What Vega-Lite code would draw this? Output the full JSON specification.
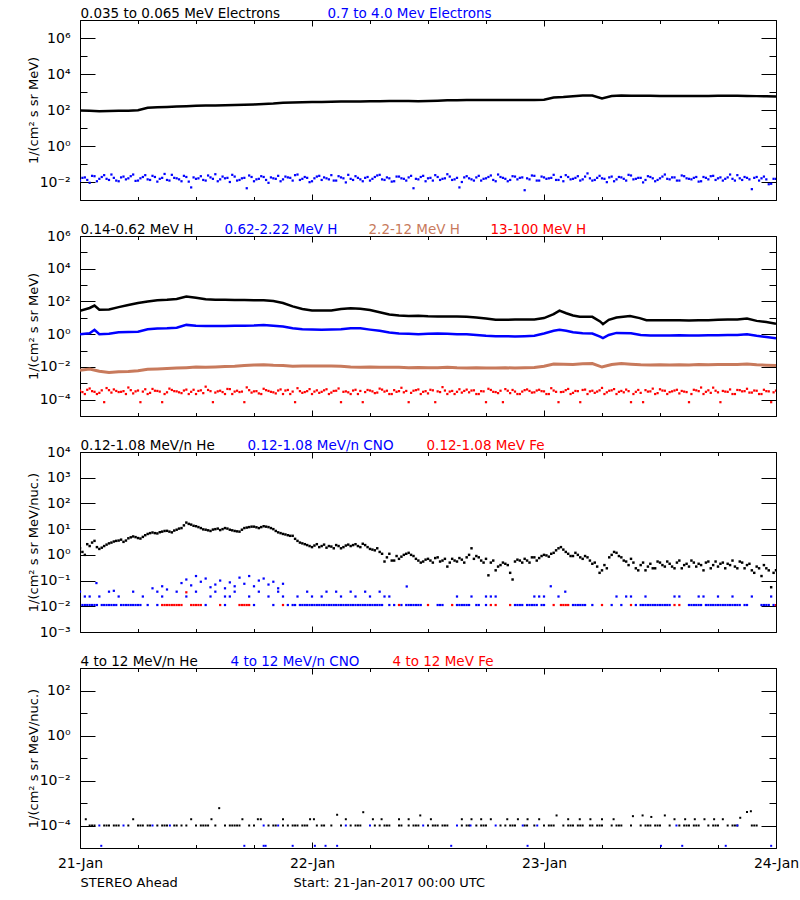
{
"$schema": "https://vega.github.io/schema/vega-lite/v6.json",
"background": "white",
"padding": {"left": 26, "top": 6, "right": 24, "bottom": 5},
"config": {
 "view": {"stroke": "black", "strokeWidth": 1},
 "font": "DejaVu Sans",
 "axis": {"domain": false, "grid": false, "tickColor": "black", "tickWidth": 1, "labelColor": "black", "labelFont": "DejaVu Sans", "labelFontSize": 14, "titleFont": "DejaVu Sans", "titleFontSize": 13, "titleFontWeight": "normal", "titleColor": "black", "labelOverlap": false, "labelFlush": false},
 "legend": {"orient": "none", "legendX": -13, "legendY": -13, "direction": "horizontal", "title": null, "symbolSize": 0, "symbolOpacity": 0, "symbolStrokeWidth": 0, "labelOffset": 0, "labelFontSize": 13.5, "labelFont": "DejaVu Sans", "padding": 0, "labelLimit": 400}
},
"datasets": {
 "e_lo": [{"h":0,"v":95},{"h":1,"v":90},{"h":2,"v":86},{"h":3,"v":88},{"h":4,"v":90},{"h":5,"v":92},{"h":6,"v":96},{"h":7,"v":134},{"h":8,"v":140},{"h":9,"v":148},{"h":10,"v":155},{"h":11,"v":162},{"h":12,"v":170},{"h":13,"v":176},{"h":14,"v":180},{"h":15,"v":185},{"h":16,"v":192},{"h":17,"v":198},{"h":18,"v":205},{"h":19,"v":215},{"h":20,"v":230},{"h":21,"v":255},{"h":22,"v":265},{"h":23,"v":270},{"h":24,"v":275},{"h":25,"v":282},{"h":26,"v":290},{"h":27,"v":292},{"h":28,"v":296},{"h":29,"v":300},{"h":30,"v":305},{"h":31,"v":308},{"h":32,"v":312},{"h":33,"v":316},{"h":34,"v":320},{"h":35,"v":305},{"h":36,"v":315},{"h":37,"v":330},{"h":38,"v":345},{"h":39,"v":350},{"h":40,"v":355},{"h":41,"v":355},{"h":42,"v":358},{"h":43,"v":360},{"h":44,"v":360},{"h":45,"v":362},{"h":46,"v":365},{"h":47,"v":365},{"h":48,"v":370},{"h":49,"v":500},{"h":50,"v":520},{"h":51,"v":580},{"h":52,"v":640},{"h":53,"v":630},{"h":54,"v":440},{"h":55,"v":600},{"h":56,"v":630},{"h":57,"v":620},{"h":58,"v":615},{"h":59,"v":610},{"h":60,"v":605},{"h":61,"v":600},{"h":62,"v":600},{"h":63,"v":598},{"h":64,"v":600},{"h":65,"v":605},{"h":66,"v":610},{"h":67,"v":615},{"h":68,"v":610},{"h":69,"v":600},{"h":70,"v":590},{"h":71,"v":580},{"h":72,"v":570}],
 "e_hi": [{"h":0,"v":0.012},{"h":0.5,"v":0.018},{"h":1,"v":0.009},{"h":1.5,"v":0.021},{"h":2,"v":0.015},{"h":2.5,"v":0.024},{"h":3,"v":0.013},{"h":3.5,"v":0.017},{"h":4,"v":0.011},{"h":4.5,"v":0.02},
 {"h":5,"v":0.016},{"h":5.5,"v":0.026},{"h":6,"v":0.012},{"h":6.5,"v":0.019},{"h":7,"v":0.014},{"h":7.5,"v":0.022},{"h":8,"v":0.0105},{"h":8.5,"v":0.017},{"h":9,"v":0.013},{"h":9.5,"v":0.025},
 {"h":10,"v":0.016},{"h":10.5,"v":0.011},{"h":11,"v":0.019},{"h":11.5,"v":0.005},{"h":12,"v":0.015},{"h":12.5,"v":0.021},{"h":13,"v":0.012},{"h":13.5,"v":0.018},{"h":14,"v":0.027},{"h":14.5,"v":0.014},
 {"h":15,"v":0.016},{"h":15.5,"v":0.01},{"h":16,"v":0.02},{"h":16.5,"v":0.013},{"h":17,"v":0.017},{"h":17.5,"v":0.023},{"h":18,"v":0.011},{"h":18.5,"v":0.015},{"h":19,"v":0.019},{"h":19.5,"v":0.009},
 {"h":20,"v":0.016},{"h":20.5,"v":0.022},{"h":21,"v":0.014},{"h":21.5,"v":0.018},{"h":22,"v":0.012},{"h":22.5,"v":0.026},{"h":23,"v":0.015},{"h":23.5,"v":0.017},{"h":24,"v":0.011},{"h":24.5,"v":0.02},
 {"h":25,"v":0.013},{"h":25.5,"v":0.016},{"h":26,"v":0.024},{"h":26.5,"v":0.012},{"h":27,"v":0.018},{"h":27.5,"v":0.0095},{"h":28,"v":0.015},{"h":28.5,"v":0.021},{"h":29,"v":0.014},{"h":29.5,"v":0.017},
 {"h":30,"v":0.012},{"h":30.5,"v":0.019},{"h":31,"v":0.025},{"h":31.5,"v":0.013},{"h":32,"v":0.016},{"h":32.5,"v":0.011},{"h":33,"v":0.02},{"h":33.5,"v":0.015},{"h":34,"v":0.018},{"h":34.5,"v":0.0045},
 {"h":35,"v":0.014},{"h":35.5,"v":0.022},{"h":36,"v":0.016},{"h":36.5,"v":0.012},{"h":37,"v":0.019},{"h":37.5,"v":0.015},{"h":38,"v":0.027},{"h":38.5,"v":0.013},{"h":39,"v":0.017},{"h":39.5,"v":0.01},
 {"h":40,"v":0.021},{"h":40.5,"v":0.014},{"h":41,"v":0.018},{"h":41.5,"v":0.012},{"h":42,"v":0.016},{"h":42.5,"v":0.023},{"h":43,"v":0.011},{"h":43.5,"v":0.019},{"h":44,"v":0.015},{"h":44.5,"v":0.013},
 {"h":45,"v":0.02},{"h":45.5,"v":0.017},{"h":46,"v":0.0035},{"h":46.5,"v":0.014},{"h":47,"v":0.022},{"h":47.5,"v":0.012},{"h":48,"v":0.018},{"h":48.5,"v":0.016},{"h":49,"v":0.025},{"h":49.5,"v":0.013},
 {"h":50,"v":0.011},{"h":50.5,"v":0.019},{"h":51,"v":0.015},{"h":51.5,"v":0.021},{"h":52,"v":0.014},{"h":52.5,"v":0.03},{"h":53,"v":0.012},{"h":53.5,"v":0.017},{"h":54,"v":0.016},{"h":54.5,"v":0.0098},
 {"h":55,"v":0.02},{"h":55.5,"v":0.014},{"h":56,"v":0.018},{"h":56.5,"v":0.012},{"h":57,"v":0.023},{"h":57.5,"v":0.015},{"h":58,"v":0.017},{"h":58.5,"v":0.013},{"h":59,"v":0.019},{"h":59.5,"v":0.011},
 {"h":60,"v":0.016},{"h":60.5,"v":0.026},{"h":61,"v":0.014},{"h":61.5,"v":0.018},{"h":62,"v":0.012},{"h":62.5,"v":0.021},{"h":63,"v":0.015},{"h":63.5,"v":0.017},{"h":64,"v":0.0105},{"h":64.5,"v":0.019},
 {"h":65,"v":0.014},{"h":65.5,"v":0.022},{"h":66,"v":0.016},{"h":66.5,"v":0.012},{"h":67,"v":0.018},{"h":67.5,"v":0.015},{"h":68,"v":0.024},{"h":68.5,"v":0.013},{"h":69,"v":0.017},{"h":69.5,"v":0.004},
 {"h":70,"v":0.019},{"h":70.5,"v":0.016},{"h":71,"v":0.014},{"h":71.5,"v":0.008},{"h":72,"v":0.015},
 {"h":0.25,"v":0.017},{"h":0.75,"v":0.013},{"h":1.25,"v":0.022},{"h":1.75,"v":0.011},{"h":2.25,"v":0.019},{"h":2.75,"v":0.015},{"h":3.25,"v":0.026},{"h":3.75,"v":0.012},{"h":4.25,"v":0.018},{"h":4.75,"v":0.014},
 {"h":5.25,"v":0.021},{"h":5.75,"v":0.0115},{"h":6.25,"v":0.016},{"h":6.75,"v":0.024},{"h":7.25,"v":0.013},{"h":7.75,"v":0.019},{"h":8.25,"v":0.015},{"h":8.75,"v":0.028},{"h":9.25,"v":0.012},{"h":9.75,"v":0.017},
 {"h":10.25,"v":0.014},{"h":10.75,"v":0.022},{"h":11.25,"v":0.0105},{"h":11.75,"v":0.018},{"h":12.25,"v":0.016},{"h":12.75,"v":0.013},{"h":13.25,"v":0.023},{"h":13.75,"v":0.015},{"h":14.25,"v":0.011},{"h":14.75,"v":0.02},
 {"h":15.25,"v":0.017},{"h":15.75,"v":0.025},{"h":16.25,"v":0.012},{"h":16.75,"v":0.016},{"h":17.25,"v":0.0045},{"h":17.75,"v":0.019},{"h":18.25,"v":0.014},{"h":18.75,"v":0.021},{"h":19.25,"v":0.013},{"h":19.75,"v":0.018},
 {"h":20.25,"v":0.015},{"h":20.75,"v":0.011},{"h":21.25,"v":0.02},{"h":21.75,"v":0.017},{"h":22.25,"v":0.024},{"h":22.75,"v":0.013},{"h":23.25,"v":0.019},{"h":23.75,"v":0.0098},{"h":24.25,"v":0.016},{"h":24.75,"v":0.022},
 {"h":25.25,"v":0.018},{"h":25.75,"v":0.014},{"h":26.25,"v":0.012},{"h":26.75,"v":0.021},{"h":27.25,"v":0.016},{"h":27.75,"v":0.025},{"h":28.25,"v":0.013},{"h":28.75,"v":0.017},{"h":29.25,"v":0.011},{"h":29.75,"v":0.019},
 {"h":30.25,"v":0.015},{"h":30.75,"v":0.023},{"h":31.25,"v":0.014},{"h":31.75,"v":0.018},{"h":32.25,"v":0.0105},{"h":32.75,"v":0.02},{"h":33.25,"v":0.016},{"h":33.75,"v":0.012},{"h":34.25,"v":0.022},{"h":34.75,"v":0.015},
 {"h":35.25,"v":0.019},{"h":35.75,"v":0.011},{"h":36.25,"v":0.017},{"h":36.75,"v":0.024},{"h":37.25,"v":0.013},{"h":37.75,"v":0.016},{"h":38.25,"v":0.02},{"h":38.75,"v":0.014},{"h":39.25,"v":0.005},{"h":39.75,"v":0.018},
 {"h":40.25,"v":0.016},{"h":40.75,"v":0.012},{"h":41.25,"v":0.022},{"h":41.75,"v":0.015},{"h":42.25,"v":0.019},{"h":42.75,"v":0.013},{"h":43.25,"v":0.026},{"h":43.75,"v":0.017},{"h":44.25,"v":0.011},{"h":44.75,"v":0.021},
 {"h":45.25,"v":0.014},{"h":45.75,"v":0.018},{"h":46.25,"v":0.016},{"h":46.75,"v":0.023},{"h":47.25,"v":0.012},{"h":47.75,"v":0.02},{"h":48.25,"v":0.015},{"h":48.75,"v":0.017},{"h":49.25,"v":0.013},{"h":49.75,"v":0.019},
 {"h":50.25,"v":0.024},{"h":50.75,"v":0.014},{"h":51.25,"v":0.017},{"h":51.75,"v":0.012},{"h":52.25,"v":0.02},{"h":52.75,"v":0.016},{"h":53.25,"v":0.013},{"h":53.75,"v":0.022},{"h":54.25,"v":0.015},{"h":54.75,"v":0.018},
 {"h":55.25,"v":0.011},{"h":55.75,"v":0.019},{"h":56.25,"v":0.015},{"h":56.75,"v":0.025},{"h":57.25,"v":0.014},{"h":57.75,"v":0.017},{"h":58.25,"v":0.0095},{"h":58.75,"v":0.021},{"h":59.25,"v":0.016},{"h":59.75,"v":0.013},
 {"h":60.25,"v":0.02},{"h":60.75,"v":0.015},{"h":61.25,"v":0.018},{"h":61.75,"v":0.012},{"h":62.25,"v":0.023},{"h":62.75,"v":0.016},{"h":63.25,"v":0.014},{"h":63.75,"v":0.019},{"h":64.25,"v":0.011},{"h":64.75,"v":0.017},
 {"h":65.25,"v":0.021},{"h":65.75,"v":0.013},{"h":66.25,"v":0.018},{"h":66.75,"v":0.015},{"h":67.25,"v":0.026},{"h":67.75,"v":0.012},{"h":68.25,"v":0.016},{"h":68.75,"v":0.019},{"h":69.25,"v":0.014},{"h":69.75,"v":0.017},
 {"h":70.25,"v":0.012},{"h":70.75,"v":0.02},{"h":71.25,"v":0.0075},{"h":71.75,"v":0.015}],
 "h1": [{"h":0,"v":27},{"h":1,"v":40},{"h":1.5,"v":56},{"h":2,"v":31},{"h":3,"v":32},{"h":4,"v":45},{"h":5,"v":60},{"h":6,"v":80},{"h":7,"v":100},{"h":8,"v":120},{"h":9,"v":125},{"h":10,"v":140},{"h":11,"v":200},{"h":12,"v":170},{"h":13,"v":135},{"h":14,"v":125},{"h":15,"v":125},{"h":16,"v":122},{"h":17,"v":122},{"h":18,"v":120},{"h":19,"v":118},{"h":20,"v":105},{"h":21,"v":80},{"h":22,"v":50},{"h":23,"v":35},{"h":24,"v":28},{"h":25,"v":28},{"h":26,"v":28},{"h":27,"v":35},{"h":28,"v":38},{"h":29,"v":36},{"h":30,"v":30},{"h":31,"v":22},{"h":32,"v":16},{"h":33,"v":13.8},{"h":34,"v":13},{"h":35,"v":13.5},{"h":36,"v":12.5},{"h":37,"v":12},{"h":38,"v":12},{"h":39,"v":12},{"h":40,"v":11.5},{"h":41,"v":10.5},{"h":42,"v":9},{"h":43,"v":7.5},{"h":44,"v":7.5},{"h":45,"v":7.8},{"h":46,"v":8},{"h":47,"v":8},{"h":48,"v":9.6},{"h":49,"v":16.7},{"h":49.6,"v":27.6},{"h":50.3,"v":19},{"h":51,"v":14},{"h":51.7,"v":11.5},{"h":53,"v":11.5},{"h":53.8,"v":6},{"h":54.1,"v":4.1},{"h":54.7,"v":7.5},{"h":55.5,"v":10.5},{"h":56.9,"v":13},{"h":57.9,"v":9.6},{"h":58.6,"v":7.2},{"h":60,"v":7},{"h":61,"v":7},{"h":62,"v":7},{"h":63,"v":6.8},{"h":64,"v":7},{"h":65,"v":7.2},{"h":66,"v":7.5},{"h":67,"v":8},{"h":68,"v":8},{"h":69,"v":9},{"h":70,"v":6.5},{"h":71,"v":5.5},{"h":72,"v":4.3}],
 "h2": [{"h":0,"v":1.0},{"h":1,"v":1.15},{"h":1.5,"v":1.85},{"h":2,"v":1.0},{"h":3,"v":1.05},{"h":4,"v":1.3},{"h":5,"v":1.35},{"h":6,"v":1.4},{"h":7,"v":2.0},{"h":8,"v":2.2},{"h":9,"v":2.3},{"h":10,"v":2.5},{"h":11,"v":3.7},{"h":12,"v":3.3},{"h":13,"v":3.2},{"h":14,"v":3.2},{"h":15,"v":3.2},{"h":16,"v":3.3},{"h":17,"v":3.3},{"h":18,"v":3.4},{"h":19,"v":3.7},{"h":20,"v":3.3},{"h":21,"v":2.9},{"h":22,"v":2.3},{"h":23,"v":2.0},{"h":24,"v":1.9},{"h":25,"v":1.85},{"h":26,"v":1.9},{"h":27,"v":2.0},{"h":28,"v":2.3},{"h":29,"v":2.3},{"h":30,"v":1.9},{"h":31,"v":1.6},{"h":32,"v":1.25},{"h":33,"v":1.1},{"h":34,"v":1.05},{"h":35,"v":1.0},{"h":36,"v":1.05},{"h":37,"v":1.1},{"h":38,"v":1.05},{"h":39,"v":1.0},{"h":40,"v":1.0},{"h":41,"v":0.9},{"h":42,"v":0.8},{"h":43,"v":0.75},{"h":44,"v":0.75},{"h":45,"v":0.72},{"h":46,"v":0.75},{"h":47,"v":0.8},{"h":48,"v":1.1},{"h":49,"v":1.6},{"h":49.6,"v":1.85},{"h":50.3,"v":1.6},{"h":51,"v":1.3},{"h":52,"v":1.15},{"h":53,"v":1.1},{"h":53.8,"v":0.7},{"h":54.1,"v":0.57},{"h":54.7,"v":0.9},{"h":55.5,"v":1.2},{"h":57,"v":1.15},{"h":58,"v":0.9},{"h":59,"v":0.83},{"h":60,"v":0.83},{"h":61,"v":0.83},{"h":62,"v":0.85},{"h":63,"v":0.83},{"h":64,"v":0.82},{"h":65,"v":0.85},{"h":66,"v":0.85},{"h":67,"v":0.88},{"h":68,"v":0.9},{"h":69,"v":1.0},{"h":70,"v":0.8},{"h":71,"v":0.68},{"h":72,"v":0.57}],
 "h3": [{"h":0,"v":0.0062},{"h":1,"v":0.0075},{"h":2,"v":0.0055},{"h":3,"v":0.0046},{"h":4,"v":0.005},{"h":5,"v":0.0052},{"h":6,"v":0.0058},{"h":7,"v":0.0072},{"h":8,"v":0.0075},{"h":9,"v":0.008},{"h":10,"v":0.0085},{"h":11,"v":0.009},{"h":12,"v":0.0098},{"h":13,"v":0.0095},{"h":14,"v":0.01},{"h":15,"v":0.0105},{"h":16,"v":0.011},{"h":17,"v":0.012},{"h":18,"v":0.013},{"h":19,"v":0.0135},{"h":20,"v":0.0125},{"h":21,"v":0.012},{"h":22,"v":0.011},{"h":23,"v":0.0112},{"h":24,"v":0.0115},{"h":25,"v":0.0112},{"h":26,"v":0.0115},{"h":27,"v":0.011},{"h":28,"v":0.01},{"h":29,"v":0.0095},{"h":30,"v":0.0098},{"h":31,"v":0.0095},{"h":32,"v":0.0096},{"h":33,"v":0.0095},{"h":34,"v":0.009},{"h":35,"v":0.0092},{"h":36,"v":0.0088},{"h":37,"v":0.009},{"h":38,"v":0.0095},{"h":39,"v":0.0088},{"h":40,"v":0.0086},{"h":41,"v":0.0088},{"h":42,"v":0.0085},{"h":43,"v":0.0087},{"h":44,"v":0.0088},{"h":45,"v":0.0086},{"h":46,"v":0.009},{"h":47,"v":0.0092},{"h":48,"v":0.011},{"h":49,"v":0.0148},{"h":50,"v":0.0145},{"h":51,"v":0.014},{"h":52,"v":0.0155},{"h":53,"v":0.016},{"h":54,"v":0.0098},{"h":55,"v":0.014},{"h":56,"v":0.016},{"h":57,"v":0.0145},{"h":58,"v":0.0135},{"h":59,"v":0.013},{"h":60,"v":0.0135},{"h":61,"v":0.013},{"h":62,"v":0.0135},{"h":63,"v":0.0132},{"h":64,"v":0.0138},{"h":65,"v":0.0135},{"h":66,"v":0.014},{"h":67,"v":0.0138},{"h":68,"v":0.0142},{"h":69,"v":0.015},{"h":70,"v":0.0135},{"h":71,"v":0.0128},{"h":72,"v":0.012}],
 "h4": [{"h":0,"v":0.00035},{"h":0.5,"v":0.00022},{"h":1,"v":0.00048},{"h":1.5,"v":0.0003},{"h":2,"v":0.00026},{"h":2.5,"v":0.00007},{"h":3,"v":0.00038},{"h":3.5,"v":0.00042},{"h":4,"v":0.00029},{"h":4.5,"v":0.00033},
 {"h":5,"v":0.00055},{"h":5.5,"v":0.00024},{"h":6,"v":0.00036},{"h":6.5,"v":0.00031},{"h":7,"v":0.00022},{"h":7.5,"v":0.00045},{"h":8,"v":0.00034},{"h":8.5,"v":0.00007},{"h":9,"v":0.00028},{"h":9.5,"v":0.00039},
 {"h":10,"v":0.00032},{"h":10.5,"v":0.00025},{"h":11,"v":0.00041},{"h":11.5,"v":0.0003},{"h":12,"v":0.00022},{"h":12.5,"v":0.00037},{"h":13,"v":0.00062},{"h":13.5,"v":0.00033},{"h":14,"v":0.00027},{"h":14.5,"v":0.00035},
 {"h":15,"v":0.00022},{"h":15.5,"v":0.00044},{"h":16,"v":0.00031},{"h":16.5,"v":0.00029},{"h":17,"v":0.00007},{"h":17.5,"v":0.00038},{"h":18,"v":0.00032},{"h":18.5,"v":0.00024},{"h":19,"v":0.00046},{"h":19.5,"v":0.00034},
 {"h":20,"v":0.00028},{"h":20.5,"v":0.00036},{"h":21,"v":0.00022},{"h":21.5,"v":0.00039},{"h":22,"v":0.00031},{"h":22.5,"v":0.0005},{"h":23,"v":0.00026},{"h":23.5,"v":0.00033},{"h":24,"v":0.00022},{"h":24.5,"v":0.00037},
 {"h":25,"v":0.0003},{"h":25.5,"v":0.00043},{"h":26,"v":0.00027},{"h":26.5,"v":0.00035},{"h":27,"v":0.00007},{"h":27.5,"v":0.00032},{"h":28,"v":0.00022},{"h":28.5,"v":0.0004},{"h":29,"v":0.00034},{"h":29.5,"v":0.00029},
 {"h":30,"v":0.00036},{"h":30.5,"v":0.00025},{"h":31,"v":0.00047},{"h":31.5,"v":0.00031},{"h":32,"v":0.00022},{"h":32.5,"v":0.00038},{"h":33,"v":0.00033},{"h":33.5,"v":0.00028},{"h":34,"v":0.00007},{"h":34.5,"v":0.00035},
 {"h":35,"v":0.00042},{"h":35.5,"v":0.0003},{"h":36,"v":0.00024},{"h":36.5,"v":0.00037},{"h":37,"v":0.00032},{"h":37.5,"v":0.00058},{"h":38,"v":0.00022},{"h":38.5,"v":0.00034},{"h":39,"v":0.0003},{"h":39.5,"v":0.00027},
 {"h":40,"v":0.00041},{"h":40.5,"v":0.00036},{"h":41,"v":0.00022},{"h":41.5,"v":0.00033},{"h":42,"v":0.00007},{"h":42.5,"v":0.00039},{"h":43,"v":0.00029},{"h":43.5,"v":0.00035},{"h":44,"v":0.00044},{"h":44.5,"v":0.00025},
 {"h":45,"v":0.00031},{"h":45.5,"v":0.00022},{"h":46,"v":0.00038},{"h":46.5,"v":0.00034},{"h":47,"v":0.00028},{"h":47.5,"v":0.0004},{"h":48,"v":0.00032},{"h":48.5,"v":0.00022},{"h":49,"v":0.00036},{"h":49.5,"v":0.00007},
 {"h":50,"v":0.0003},{"h":50.5,"v":0.00045},{"h":51,"v":0.00026},{"h":51.5,"v":0.00033},{"h":52,"v":0.00039},{"h":52.5,"v":0.00022},{"h":53,"v":0.00035},{"h":53.5,"v":0.00031},{"h":54,"v":0.00052},{"h":54.5,"v":0.00028},
 {"h":55,"v":0.00037},{"h":55.5,"v":0.00022},{"h":56,"v":0.00034},{"h":56.5,"v":0.00041},{"h":57,"v":0.00007},{"h":57.5,"v":0.0003},{"h":58,"v":0.00026},{"h":58.5,"v":0.00038},{"h":59,"v":0.00032},{"h":59.5,"v":0.00022},
 {"h":60,"v":0.00043},{"h":60.5,"v":0.00035},{"h":61,"v":0.00029},{"h":61.5,"v":0.00036},{"h":62,"v":0.00024},{"h":62.5,"v":0.00031},{"h":63,"v":0.00007},{"h":63.5,"v":0.0004},{"h":64,"v":0.00033},{"h":64.5,"v":0.00022},
 {"h":65,"v":0.00037},{"h":65.5,"v":0.00054},{"h":66,"v":0.00028},{"h":66.5,"v":0.00034},{"h":67,"v":0.0003},{"h":67.5,"v":0.00022},{"h":68,"v":0.00039},{"h":68.5,"v":0.00032},{"h":69,"v":0.00046},{"h":69.5,"v":0.00027},
 {"h":70,"v":0.00035},{"h":70.5,"v":0.00022},{"h":71,"v":0.00033},{"h":71.5,"v":0.00007},{"h":72,"v":0.00036},
 {"h":0.25,"v":0.00029},{"h":0.75,"v":0.0004},{"h":1.25,"v":0.00033},{"h":1.75,"v":0.00022},{"h":2.25,"v":0.00037},{"h":2.75,"v":0.00051},{"h":3.25,"v":0.00027},{"h":3.75,"v":0.00034},{"h":4.25,"v":0.0003},{"h":4.75,"v":0.00022},
 {"h":5.25,"v":0.00038},{"h":5.75,"v":0.00032},{"h":6.25,"v":0.00007},{"h":6.75,"v":0.00043},{"h":7.25,"v":0.00026},{"h":7.75,"v":0.00035},{"h":8.25,"v":0.00031},{"h":8.75,"v":0.00022},{"h":9.25,"v":0.00047},{"h":9.75,"v":0.00033},
 {"h":10.25,"v":0.00028},{"h":10.75,"v":0.00036},{"h":11.25,"v":0.00022},{"h":11.75,"v":0.0004},{"h":12.25,"v":0.00034},{"h":12.75,"v":0.00025},{"h":13.25,"v":0.00039},{"h":13.75,"v":0.00007},{"h":14.25,"v":0.00032},{"h":14.75,"v":0.00029},
 {"h":15.25,"v":0.00045},{"h":15.75,"v":0.00022},{"h":16.25,"v":0.00035},{"h":16.75,"v":0.00031},{"h":17.25,"v":0.00056},{"h":17.75,"v":0.00027},{"h":18.25,"v":0.00033},{"h":18.75,"v":0.00022},{"h":19.25,"v":0.00038},{"h":19.75,"v":0.0003},
 {"h":20.25,"v":0.00024},{"h":20.75,"v":0.00042},{"h":21.25,"v":0.00036},{"h":21.75,"v":0.00022},{"h":22.25,"v":0.00007},{"h":22.75,"v":0.00033},{"h":23.25,"v":0.00029},{"h":23.75,"v":0.00044},{"h":24.25,"v":0.00031},{"h":24.75,"v":0.00026},
 {"h":25.25,"v":0.00037},{"h":25.75,"v":0.00022},{"h":26.25,"v":0.00034},{"h":26.75,"v":0.00048},{"h":27.25,"v":0.0003},{"h":27.75,"v":0.00028},{"h":28.25,"v":0.00036},{"h":28.75,"v":0.00022},{"h":29.25,"v":0.00007},{"h":29.75,"v":0.00039},
 {"h":30.25,"v":0.00032},{"h":30.75,"v":0.00027},{"h":31.25,"v":0.00041},{"h":31.75,"v":0.00035},{"h":32.25,"v":0.00022},{"h":32.75,"v":0.0003},{"h":33.25,"v":0.00053},{"h":33.75,"v":0.00034},{"h":34.25,"v":0.00026},{"h":34.75,"v":0.00038},
 {"h":35.25,"v":0.00022},{"h":35.75,"v":0.00033},{"h":36.25,"v":0.0004},{"h":36.75,"v":0.00007},{"h":37.25,"v":0.00029},{"h":37.75,"v":0.00036},{"h":38.25,"v":0.00031},{"h":38.75,"v":0.00022},{"h":39.25,"v":0.00043},{"h":39.75,"v":0.00034},
 {"h":40.25,"v":0.00028},{"h":40.75,"v":0.00037},{"h":41.25,"v":0.00022},{"h":41.75,"v":0.00032},{"h":42.25,"v":0.00046},{"h":42.75,"v":0.0003},{"h":43.25,"v":0.00025},{"h":43.75,"v":0.00007},{"h":44.25,"v":0.00035},{"h":44.75,"v":0.00039},
 {"h":45.25,"v":0.00022},{"h":45.75,"v":0.00031},{"h":46.25,"v":0.00042},{"h":46.75,"v":0.00027},{"h":47.25,"v":0.00036},{"h":47.75,"v":0.00033},{"h":48.25,"v":0.00022},{"h":48.75,"v":0.0005},{"h":49.25,"v":0.0003},{"h":49.75,"v":0.00029},
 {"h":50.25,"v":0.00038},{"h":50.75,"v":0.00022},{"h":51.25,"v":0.00034},{"h":51.75,"v":0.00007},{"h":52.25,"v":0.00041},{"h":52.75,"v":0.00032},{"h":53.25,"v":0.00026},{"h":53.75,"v":0.00037},{"h":54.25,"v":0.00022},{"h":54.75,"v":0.00035},
 {"h":55.25,"v":0.00044},{"h":55.75,"v":0.0003},{"h":56.25,"v":0.00028},{"h":56.75,"v":0.00033},{"h":57.25,"v":0.00022},{"h":57.75,"v":0.00039},{"h":58.25,"v":0.00007},{"h":58.75,"v":0.00031},{"h":59.25,"v":0.00047},{"h":59.75,"v":0.00025},
 {"h":60.25,"v":0.00036},{"h":60.75,"v":0.00022},{"h":61.25,"v":0.00032},{"h":61.75,"v":0.0004},{"h":62.25,"v":0.00034},{"h":62.75,"v":0.00029},{"h":63.25,"v":0.00022},{"h":63.75,"v":0.00037},{"h":64.25,"v":0.00055},{"h":64.75,"v":0.0003},
 {"h":65.25,"v":0.00026},{"h":65.75,"v":0.00035},{"h":66.25,"v":0.00007},{"h":66.75,"v":0.00031},{"h":67.25,"v":0.00042},{"h":67.75,"v":0.00022},{"h":68.25,"v":0.00038},{"h":68.75,"v":0.00033},{"h":69.25,"v":0.00027},{"h":69.75,"v":0.00036},
 {"h":70.25,"v":0.00022},{"h":70.75,"v":0.0004},{"h":71.25,"v":0.00032},{"h":71.75,"v":0.00028}],
 "he": [{"h":0,"v":1.8},{"h":0.5,"v":1.0},{"h":1,"v":2.2},{"h":1.5,"v":3.5},{"h":2,"v":1.7},{"h":2.5,"v":2.2},{"h":3,"v":2.8},{"h":3.5,"v":3.3},{"h":4,"v":3.6},{"h":4.5,"v":3.2},{"h":5,"v":4.4},{"h":5.5,"v":5.2},{"h":6,"v":4.5},{"h":6.5,"v":5.0},{"h":7,"v":6.5},{"h":7.5,"v":7.4},{"h":8,"v":6.8},{"h":8.5,"v":8.0},{"h":9,"v":8.6},{"h":9.5,"v":7.5},{"h":10,"v":9.5},{"h":10.5,"v":11},{"h":11,"v":18},{"h":11.5,"v":15},{"h":12,"v":13},{"h":12.5,"v":11},{"h":13,"v":9.5},{"h":13.5,"v":8.5},{"h":14,"v":10},{"h":14.5,"v":9.2},{"h":15,"v":11},{"h":15.5,"v":9.5},{"h":16,"v":8.5},{"h":16.5,"v":8},{"h":17,"v":11},{"h":17.5,"v":12},{"h":18,"v":12.5},{"h":18.5,"v":11},{"h":19,"v":13},{"h":19.5,"v":12},{"h":20,"v":10},{"h":20.5,"v":7.5},{"h":21,"v":6.5},{"h":21.5,"v":5.8},{"h":22,"v":5.5},{"h":22.5,"v":3.5},{"h":23,"v":2.8},{"h":23.5,"v":2.4},{"h":24,"v":2.0},{"h":24.5,"v":2.6},{"h":25,"v":2.2},{"h":25.5,"v":1.9},{"h":26,"v":2.1},{"h":26.5,"v":2.4},{"h":27,"v":1.8},{"h":27.5,"v":2.3},{"h":28,"v":2.2},{"h":28.5,"v":2.6},{"h":29,"v":2.0},{"h":29.5,"v":2.4},{"h":30,"v":1.7},{"h":30.5,"v":1.5},{"h":31,"v":1.3},{"h":31.5,"v":0.55},{"h":32,"v":1.1},{"h":32.5,"v":0.6},{"h":33,"v":0.7},{"h":33.5,"v":1.0},{"h":34,"v":1.2},{"h":34.5,"v":0.9},{"h":35,"v":0.6},{"h":35.5,"v":0.55},{"h":36,"v":0.7},{"h":36.5,"v":0.5},{"h":37,"v":0.8},{"h":37.5,"v":0.6},{"h":38,"v":0.35},{"h":38.5,"v":0.7},{"h":39,"v":0.55},{"h":39.5,"v":0.65},{"h":40,"v":0.8},{"h":40.5,"v":1.8},{"h":41,"v":0.9},{"h":41.5,"v":0.6},{"h":42,"v":0.7},{"h":42.5,"v":0.5},{"h":43,"v":0.25},{"h":43.5,"v":0.4},{"h":44,"v":0.45},{"h":44.5,"v":0.2},{"h":45,"v":0.55},{"h":45.5,"v":0.6},{"h":46,"v":0.7},{"h":46.5,"v":0.5},{"h":47,"v":0.8},{"h":47.5,"v":0.75},{"h":48,"v":1.0},{"h":48.5,"v":0.85},{"h":49,"v":1.2},{"h":49.5,"v":1.8},{"h":50,"v":1.6},{"h":50.5,"v":1.1},{"h":51,"v":0.9},{"h":51.5,"v":1.0},{"h":52,"v":0.7},{"h":52.5,"v":0.8},{"h":53,"v":0.45},{"h":53.5,"v":0.35},{"h":54,"v":0.25},{"h":54.5,"v":0.3},{"h":55,"v":1.0},{"h":55.5,"v":1.2},{"h":56,"v":0.8},{"h":56.5,"v":0.55},{"h":57,"v":0.7},{"h":57.5,"v":0.3},{"h":58,"v":0.4},{"h":58.5,"v":0.25},{"h":59,"v":0.45},{"h":59.5,"v":0.3},{"h":60,"v":0.5},{"h":60.5,"v":0.35},{"h":61,"v":0.45},{"h":61.5,"v":0.3},{"h":62,"v":0.6},{"h":62.5,"v":0.4},{"h":63,"v":0.35},{"h":63.5,"v":0.5},{"h":64,"v":0.45},{"h":64.5,"v":0.25},{"h":65,"v":0.55},{"h":65.5,"v":0.4},{"h":66,"v":0.35},{"h":66.5,"v":0.5},{"h":67,"v":0.45},{"h":67.5,"v":0.6},{"h":68,"v":0.3},{"h":68.5,"v":0.5},{"h":69,"v":0.4},{"h":69.5,"v":0.25},{"h":70,"v":0.35},{"h":70.5,"v":0.15},{"h":71,"v":0.3},{"h":71.5,"v":0.055},{"h":72,"v":0.25},
 {"h":0.25,"v":1.3},{"h":0.75,"v":2.6},{"h":1.25,"v":3.0},{"h":1.75,"v":2.0},{"h":2.25,"v":1.9},{"h":2.75,"v":2.5},{"h":3.25,"v":3.0},{"h":3.75,"v":3.5},{"h":4.25,"v":3.9},{"h":4.75,"v":3.6},
 {"h":5.25,"v":4.8},{"h":5.75,"v":4.9},{"h":6.25,"v":4.3},{"h":6.75,"v":5.8},{"h":7.25,"v":7.0},{"h":7.75,"v":7.0},{"h":8.25,"v":7.6},{"h":8.75,"v":8.5},{"h":9.25,"v":8.0},{"h":9.75,"v":8.8},
 {"h":10.25,"v":10.5},{"h":10.75,"v":14},{"h":11.25,"v":16},{"h":11.75,"v":13.5},{"h":12.25,"v":12},{"h":12.75,"v":9.8},{"h":13.25,"v":9},{"h":13.75,"v":9.6},{"h":14.25,"v":10.5},{"h":14.75,"v":10},
 {"h":15.25,"v":10.5},{"h":15.75,"v":9},{"h":16.25,"v":8.2},{"h":16.75,"v":9.5},{"h":17.25,"v":11.5},{"h":17.75,"v":12.5},{"h":18.25,"v":11.8},{"h":18.75,"v":12},{"h":19.25,"v":12.5},{"h":19.75,"v":11},
 {"h":20.25,"v":8.5},{"h":20.75,"v":7},{"h":21.25,"v":6.2},{"h":21.75,"v":5.5},{"h":22.25,"v":4.2},{"h":22.75,"v":3.0},{"h":23.25,"v":2.6},{"h":23.75,"v":2.2},{"h":24.25,"v":2.3},{"h":24.75,"v":2.0},
 {"h":25.25,"v":2.5},{"h":25.75,"v":2.2},{"h":26.25,"v":1.8},{"h":26.75,"v":2.2},{"h":27.25,"v":2.0},{"h":27.75,"v":2.5},{"h":28.25,"v":2.4},{"h":28.75,"v":2.2},{"h":29.25,"v":2.7},{"h":29.75,"v":2.0},
 {"h":30.25,"v":1.6},{"h":30.75,"v":1.8},{"h":31.25,"v":1.1},{"h":31.75,"v":0.8},{"h":32.25,"v":0.6},{"h":32.75,"v":0.9},{"h":33.25,"v":0.85},{"h":33.75,"v":1.1},{"h":34.25,"v":1.0},{"h":34.75,"v":0.7},
 {"h":35.25,"v":0.5},{"h":35.75,"v":0.65},{"h":36.25,"v":0.6},{"h":36.75,"v":0.75},{"h":37.25,"v":0.55},{"h":37.75,"v":0.7},{"h":38.25,"v":0.5},{"h":38.75,"v":0.6},{"h":39.25,"v":0.75},{"h":39.75,"v":0.5},
 {"h":40.25,"v":1.0},{"h":40.75,"v":0.7},{"h":41.25,"v":0.8},{"h":41.75,"v":0.5},{"h":42.25,"v":0.16},{"h":42.75,"v":0.6},{"h":43.25,"v":0.35},{"h":43.75,"v":0.5},{"h":44.25,"v":0.4},{"h":44.75,"v":0.11},
 {"h":45.25,"v":0.65},{"h":45.75,"v":0.5},{"h":46.25,"v":0.6},{"h":46.75,"v":0.8},{"h":47.25,"v":0.6},{"h":47.75,"v":0.9},{"h":48.25,"v":0.95},{"h":48.75,"v":1.1},{"h":49.25,"v":1.5},{"h":49.75,"v":2.0},
 {"h":50.25,"v":1.3},{"h":50.75,"v":0.9},{"h":51.25,"v":1.2},{"h":51.75,"v":0.8},{"h":52.25,"v":0.9},{"h":52.75,"v":0.6},{"h":53.25,"v":0.5},{"h":53.75,"v":0.2},{"h":54.25,"v":0.4},{"h":54.75,"v":0.8},
 {"h":55.25,"v":1.3},{"h":55.75,"v":0.9},{"h":56.25,"v":0.6},{"h":56.75,"v":0.4},{"h":57.25,"v":0.5},{"h":57.75,"v":0.25},{"h":58.25,"v":0.5},{"h":58.75,"v":0.35},{"h":59.25,"v":0.3},{"h":59.75,"v":0.55},
 {"h":60.25,"v":0.4},{"h":60.75,"v":0.55},{"h":61.25,"v":0.35},{"h":61.75,"v":0.5},{"h":62.25,"v":0.3},{"h":62.75,"v":0.45},{"h":63.25,"v":0.6},{"h":63.75,"v":0.35},{"h":64.25,"v":0.4},{"h":64.75,"v":0.5},
 {"h":65.25,"v":0.3},{"h":65.75,"v":0.55},{"h":66.25,"v":0.45},{"h":66.75,"v":0.3},{"h":67.25,"v":0.4},{"h":67.75,"v":0.35},{"h":68.25,"v":0.55},{"h":68.75,"v":0.3},{"h":69.25,"v":0.45},{"h":69.75,"v":0.2},
 {"h":70.25,"v":0.3},{"h":70.75,"v":0.4},{"h":71.25,"v":0.25},{"h":71.75,"v":0.2}],
 "cno": [{"h":0.5,"v":0.0112},{"h":1,"v":0.0112},{"h":1.5,"v":0.0112},{"h":2.5,"v":0.0112},{"h":3,"v":0.0112},{"h":3.5,"v":0.0112},{"h":4.5,"v":0.0112},{"h":5,"v":0.0112},{"h":5.5,"v":0.0112},{"h":6,"v":0.0112},{"h":7,"v":0.0112},{"h":8,"v":0.0112},{"h":13,"v":0.0112},{"h":15,"v":0.0112},{"h":18,"v":0.0112},{"h":20,"v":0.0112},{"h":21.5,"v":0.0112},{"h":22,"v":0.0112},{"h":23,"v":0.0112},{"h":23.5,"v":0.0112},{"h":24,"v":0.0112},{"h":24.5,"v":0.0112},{"h":25,"v":0.0112},{"h":25.5,"v":0.0112},{"h":26,"v":0.0112},{"h":26.5,"v":0.0112},{"h":27,"v":0.0112},{"h":27.5,"v":0.0112},{"h":28,"v":0.0112},{"h":28.5,"v":0.0112},{"h":29,"v":0.0112},{"h":29.5,"v":0.0112},{"h":30,"v":0.0112},{"h":30.5,"v":0.0112},{"h":31,"v":0.0112},{"h":32,"v":0.0112},{"h":32.5,"v":0.0112},{"h":34,"v":0.0112},{"h":34.5,"v":0.0112},{"h":35,"v":0.0112},{"h":37,"v":0.0112},{"h":37.5,"v":0.0112},{"h":39,"v":0.0112},{"h":39.5,"v":0.0112},{"h":40,"v":0.0112},{"h":41,"v":0.0112},{"h":42,"v":0.0112},{"h":45,"v":0.0112},{"h":45.5,"v":0.0112},{"h":46.5,"v":0.0112},{"h":47,"v":0.0112},{"h":48,"v":0.0112},{"h":51,"v":0.0112},{"h":51.5,"v":0.0112},{"h":52,"v":0.0112},{"h":53,"v":0.0112},{"h":55,"v":0.0112},{"h":56,"v":0.0112},{"h":57.5,"v":0.0112},{"h":58,"v":0.0112},{"h":58.5,"v":0.0112},{"h":59,"v":0.0112},{"h":59.5,"v":0.0112},{"h":60,"v":0.0112},{"h":60.5,"v":0.0112},{"h":61,"v":0.0112},{"h":63,"v":0.0112},{"h":63.5,"v":0.0112},{"h":64,"v":0.0112},{"h":65,"v":0.0112},{"h":65.5,"v":0.0112},{"h":66,"v":0.0112},{"h":66.5,"v":0.0112},{"h":67,"v":0.0112},{"h":67.5,"v":0.0112},{"h":68,"v":0.0112},{"h":69,"v":0.0112},{"h":70.5,"v":0.0112},{"h":71,"v":0.0112},
 {"h":0.25,"v":0.0112},{"h":0.75,"v":0.0112},{"h":1.25,"v":0.0112},{"h":1.75,"v":0.0112},{"h":2.25,"v":0.0112},{"h":2.75,"v":0.0112},{"h":3.25,"v":0.0112},{"h":3.75,"v":0.0112},{"h":4.25,"v":0.0112},{"h":4.75,"v":0.0112},{"h":5.25,"v":0.0112},{"h":5.75,"v":0.0112},{"h":6.25,"v":0.0112},{"h":22.25,"v":0.0112},{"h":22.75,"v":0.0112},{"h":23.25,"v":0.0112},{"h":23.75,"v":0.0112},{"h":24.25,"v":0.0112},{"h":24.75,"v":0.0112},{"h":25.25,"v":0.0112},{"h":25.75,"v":0.0112},{"h":26.25,"v":0.0112},{"h":26.75,"v":0.0112},{"h":27.25,"v":0.0112},{"h":27.75,"v":0.0112},{"h":28.25,"v":0.0112},{"h":28.75,"v":0.0112},{"h":29.25,"v":0.0112},{"h":29.75,"v":0.0112},{"h":30.25,"v":0.0112},{"h":30.75,"v":0.0112},{"h":31.25,"v":0.0112},{"h":33.25,"v":0.0112},{"h":33.75,"v":0.0112},{"h":34.25,"v":0.0112},{"h":34.75,"v":0.0112},{"h":35.25,"v":0.0112},{"h":37.25,"v":0.0112},{"h":39.25,"v":0.0112},{"h":39.75,"v":0.0112},{"h":40.25,"v":0.0112},{"h":41.25,"v":0.0112},{"h":45.25,"v":0.0112},{"h":45.75,"v":0.0112},{"h":46.25,"v":0.0112},{"h":46.75,"v":0.0112},{"h":47.25,"v":0.0112},{"h":47.75,"v":0.0112},{"h":51.25,"v":0.0112},{"h":51.75,"v":0.0112},{"h":52.25,"v":0.0112},{"h":58.25,"v":0.0112},{"h":58.75,"v":0.0112},{"h":59.25,"v":0.0112},{"h":59.75,"v":0.0112},{"h":60.25,"v":0.0112},{"h":60.75,"v":0.0112},{"h":63.25,"v":0.0112},{"h":63.75,"v":0.0112},{"h":64.25,"v":0.0112},{"h":64.75,"v":0.0112},{"h":65.25,"v":0.0112},{"h":65.75,"v":0.0112},{"h":66.25,"v":0.0112},{"h":66.75,"v":0.0112},{"h":67.25,"v":0.0112},{"h":67.75,"v":0.0112},{"h":68.25,"v":0.0112},{"h":68.75,"v":0.0112},{"h":70.75,"v":0.0112},{"h":71.25,"v":0.0112},{"h":71.75,"v":0.0112},
 {"h":0.5,"v":0.024},{"h":1,"v":0.024},{"h":2,"v":0.024},{"h":4,"v":0.024},{"h":6.5,"v":0.024},{"h":8.5,"v":0.024},{"h":11,"v":0.024},{"h":13.5,"v":0.024},{"h":15,"v":0.024},{"h":15.5,"v":0.024},{"h":17.5,"v":0.024},{"h":19.5,"v":0.024},{"h":21,"v":0.024},{"h":22.5,"v":0.024},{"h":24,"v":0.024},{"h":25,"v":0.024},{"h":27,"v":0.024},{"h":28.5,"v":0.024},{"h":30,"v":0.024},{"h":31.5,"v":0.024},{"h":32,"v":0.024},{"h":39,"v":0.024},{"h":40.5,"v":0.024},{"h":42,"v":0.024},{"h":42.5,"v":0.024},{"h":43,"v":0.024},{"h":47,"v":0.024},{"h":47.5,"v":0.024},{"h":48,"v":0.024},{"h":49.5,"v":0.024},{"h":55.5,"v":0.024},{"h":56.5,"v":0.024},{"h":57,"v":0.024},{"h":58.5,"v":0.024},{"h":61.5,"v":0.024},{"h":62,"v":0.024},{"h":64,"v":0.024},{"h":64.5,"v":0.024},{"h":66,"v":0.024},{"h":67.5,"v":0.024},{"h":69.5,"v":0.024},{"h":71.5,"v":0.024},
 {"h":0,"v":0.037},{"h":3,"v":0.037},{"h":5.5,"v":0.037},{"h":8,"v":0.037},{"h":10,"v":0.037},{"h":12,"v":0.037},{"h":14,"v":0.037},{"h":16,"v":0.037},{"h":18.5,"v":0.037},{"h":20.5,"v":0.037},{"h":23.5,"v":0.037},{"h":25.5,"v":0.037},{"h":26.5,"v":0.037},{"h":28,"v":0.037},{"h":29.5,"v":0.037},{"h":31,"v":0.037},{"h":50.2,"v":0.037},
 {"h":1.7,"v":0.08},{"h":3.5,"v":0.04},{"h":7.5,"v":0.05},{"h":8.5,"v":0.06},{"h":9,"v":0.045},{"h":10.5,"v":0.08},{"h":11,"v":0.11},{"h":11.5,"v":0.065},{"h":12,"v":0.15},{"h":12.5,"v":0.09},{"h":13,"v":0.12},{"h":13.5,"v":0.055},{"h":14,"v":0.07},{"h":14.5,"v":0.1},{"h":15,"v":0.05},{"h":15.5,"v":0.085},{"h":16,"v":0.06},{"h":16.5,"v":0.13},{"h":17,"v":0.075},{"h":17.5,"v":0.15},{"h":18,"v":0.06},{"h":18.5,"v":0.1},{"h":19,"v":0.12},{"h":19.5,"v":0.07},{"h":20,"v":0.09},{"h":20.5,"v":0.05},{"h":21,"v":0.075},{"h":33.8,"v":0.059},{"h":48.7,"v":0.06}],
 "fe": [{"h":8.5,"v":0.0112},{"h":9,"v":0.0112},{"h":9.5,"v":0.0112},{"h":10,"v":0.0112},{"h":10.5,"v":0.0112},{"h":11.5,"v":0.0112},{"h":12,"v":0.0112},{"h":12.5,"v":0.0112},{"h":14.5,"v":0.0112},{"h":16.5,"v":0.0112},{"h":17,"v":0.0112},{"h":17.5,"v":0.0112},{"h":21,"v":0.0112},{"h":33,"v":0.0112},{"h":36,"v":0.0112},{"h":38.5,"v":0.0112},{"h":42.5,"v":0.0112},{"h":43,"v":0.0112},{"h":44.5,"v":0.0112},{"h":49,"v":0.0112},{"h":50,"v":0.0112},{"h":50.5,"v":0.0112},{"h":54,"v":0.0112},{"h":57,"v":0.0112},{"h":61.5,"v":0.0112},{"h":62,"v":0.0112},{"h":72,"v":0.0112},{"h":11,"v":0.035},
 {"h":8.75,"v":0.0112},{"h":9.25,"v":0.0112},{"h":9.75,"v":0.0112},{"h":10.25,"v":0.0112},{"h":11.75,"v":0.0112},{"h":12.25,"v":0.0112},{"h":16.75,"v":0.0112},{"h":17.25,"v":0.0112},{"h":49.75,"v":0.0112},{"h":50.25,"v":0.0112}],
 "he4": [{"h":1,"v":0.0001},{"h":1.5,"v":0.0001},{"h":2.5,"v":0.0001},{"h":3,"v":0.0001},{"h":3.5,"v":0.0001},{"h":4,"v":0.0001},{"h":5,"v":0.0001},{"h":6,"v":0.0001},{"h":6.5,"v":0.0001},{"h":7,"v":0.0001},{"h":8,"v":0.0001},{"h":8.5,"v":0.0001},{"h":9,"v":0.0001},{"h":10,"v":0.0001},{"h":10.5,"v":0.0001},{"h":11,"v":0.0001},{"h":12,"v":0.0001},{"h":12.5,"v":0.0001},{"h":13,"v":0.0001},{"h":14,"v":0.0001},{"h":15,"v":0.0001},{"h":15.5,"v":0.0001},{"h":16,"v":0.0001},{"h":16.5,"v":0.0001},{"h":17.5,"v":0.0001},{"h":18,"v":0.0001},{"h":19.5,"v":0.0001},{"h":20,"v":0.0001},{"h":21,"v":0.0001},{"h":21.5,"v":0.0001},{"h":22,"v":0.0001},{"h":22.5,"v":0.0001},{"h":23,"v":0.0001},{"h":23.5,"v":0.0001},{"h":24.5,"v":0.0001},{"h":25,"v":0.0001},{"h":26,"v":0.0001},{"h":27,"v":0.0001},{"h":28,"v":0.0001},{"h":28.5,"v":0.0001},{"h":29,"v":0.0001},{"h":30.5,"v":0.0001},{"h":31,"v":0.0001},{"h":31.5,"v":0.0001},{"h":32,"v":0.0001},{"h":33,"v":0.0001},{"h":34,"v":0.0001},{"h":34.5,"v":0.0001},{"h":35,"v":0.0001},{"h":36,"v":0.0001},{"h":36.5,"v":0.0001},{"h":37,"v":0.0001},{"h":37.5,"v":0.0001},{"h":38,"v":0.0001},{"h":39.5,"v":0.0001},{"h":40,"v":0.0001},{"h":41,"v":0.0001},{"h":41.5,"v":0.0001},{"h":42,"v":0.0001},{"h":43.5,"v":0.0001},{"h":44,"v":0.0001},{"h":44.5,"v":0.0001},{"h":45,"v":0.0001},{"h":46,"v":0.0001},{"h":47,"v":0.0001},{"h":48,"v":0.0001},{"h":48.5,"v":0.0001},{"h":49,"v":0.0001},{"h":50,"v":0.0001},{"h":50.5,"v":0.0001},{"h":51,"v":0.0001},{"h":51.5,"v":0.0001},{"h":52,"v":0.0001},{"h":53,"v":0.0001},{"h":53.5,"v":0.0001},{"h":54,"v":0.0001},{"h":55,"v":0.0001},{"h":55.5,"v":0.0001},{"h":56,"v":0.0001},{"h":57,"v":0.0001},{"h":58,"v":0.0001},{"h":58.5,"v":0.0001},{"h":59,"v":0.0001},{"h":59.5,"v":0.0001},{"h":60,"v":0.0001},{"h":61,"v":0.0001},{"h":62,"v":0.0001},{"h":62.5,"v":0.0001},{"h":63,"v":0.0001},{"h":63.5,"v":0.0001},{"h":64,"v":0.0001},{"h":65,"v":0.0001},{"h":65.5,"v":0.0001},{"h":66,"v":0.0001},{"h":67,"v":0.0001},{"h":67.5,"v":0.0001},{"h":68,"v":0.0001},{"h":69.5,"v":0.0001},{"h":70,"v":0.0001},
 {"h":1.25,"v":0.0001},{"h":2.75,"v":0.0001},{"h":3.75,"v":0.0001},{"h":6.25,"v":0.0001},{"h":7.25,"v":0.0001},{"h":8.75,"v":0.0001},{"h":9.75,"v":0.0001},{"h":12.75,"v":0.0001},{"h":13.25,"v":0.0001},{"h":15.75,"v":0.0001},{"h":16.25,"v":0.0001},{"h":20.25,"v":0.0001},{"h":22.25,"v":0.0001},{"h":23.25,"v":0.0001},{"h":25.25,"v":0.0001},{"h":28.75,"v":0.0001},{"h":31.75,"v":0.0001},{"h":33.25,"v":0.0001},{"h":34.75,"v":0.0001},{"h":36.75,"v":0.0001},{"h":37.75,"v":0.0001},{"h":40.25,"v":0.0001},{"h":41.75,"v":0.0001},{"h":44.75,"v":0.0001},{"h":46.25,"v":0.0001},{"h":48.75,"v":0.0001},{"h":50.75,"v":0.0001},{"h":51.75,"v":0.0001},{"h":52.75,"v":0.0001},{"h":53.75,"v":0.0001},{"h":55.75,"v":0.0001},{"h":58.75,"v":0.0001},{"h":59.75,"v":0.0001},{"h":62.75,"v":0.0001},{"h":63.75,"v":0.0001},{"h":65.75,"v":0.0001},{"h":67.75,"v":0.0001},{"h":69.75,"v":0.0001},
 {"h":0.6,"v":0.00019},{"h":5.5,"v":0.00019},{"h":11.5,"v":0.00019},{"h":13.6,"v":0.00019},{"h":14.4,"v":0.00059},{"h":16.8,"v":0.00019},{"h":18.4,"v":0.00019},{"h":18.7,"v":0.00019},{"h":21,"v":0.00019},{"h":23.8,"v":0.00019},{"h":24.2,"v":0.00019},{"h":26.6,"v":0.0003},{"h":27.5,"v":0.00019},{"h":29.3,"v":0.00039},{"h":30.3,"v":0.00019},{"h":31.2,"v":0.00019},{"h":33,"v":0.00019},{"h":34,"v":0.00019},{"h":35.2,"v":0.00028},{"h":36.3,"v":0.00019},{"h":39.5,"v":0.00019},{"h":40.5,"v":0.00019},{"h":41.5,"v":0.00019},{"h":42.5,"v":0.00019},{"h":44.2,"v":0.00019},{"h":45.3,"v":0.00019},{"h":46.3,"v":0.00019},{"h":47.5,"v":0.00019},{"h":49.3,"v":0.00028},{"h":50.5,"v":0.00019},{"h":51.7,"v":0.00019},{"h":52.8,"v":0.00019},{"h":54,"v":0.00019},{"h":55.2,"v":0.00019},{"h":57.2,"v":0.00026},{"h":58.2,"v":0.00028},{"h":59.1,"v":0.00024},{"h":60.5,"v":0.00028},{"h":61.5,"v":0.00019},{"h":62.6,"v":0.00019},{"h":63.6,"v":0.00019},{"h":64.6,"v":0.00019},{"h":65.6,"v":0.00019},{"h":66.5,"v":0.00019},{"h":68.3,"v":0.00022},{"h":69,"v":0.0004},{"h":69.4,"v":0.00043}],
 "cno4": [{"h":2,"v":0.0001},{"h":4.5,"v":0.0001},{"h":7.5,"v":0.0001},{"h":9.3,"v":0.0001},{"h":19,"v":0.0001},{"h":20.5,"v":0.0001},{"h":27.5,"v":0.0001},{"h":30,"v":0.0001},{"h":35.5,"v":0.0001},{"h":39,"v":0.0001},{"h":40.4,"v":0.0001},{"h":43,"v":0.0001},{"h":45.8,"v":0.0001},{"h":47.3,"v":0.0001},{"h":61.7,"v":0.0001},{"h":68,"v":0.0001},
 {"h":2.2,"v":0.0000125},{"h":17,"v":0.0000125},{"h":19,"v":0.0000125},{"h":19.2,"v":0.0000125},{"h":22,"v":0.0000125},{"h":24.3,"v":0.0000125},{"h":25.4,"v":0.0000125},{"h":26.6,"v":0.0000125},{"h":38.4,"v":0.0000125},{"h":46.3,"v":0.0000125},{"h":60.1,"v":0.0000125},{"h":62.3,"v":0.0000125},{"h":66.8,"v":0.0000125},{"h":71.5,"v":0.0000125}]
},
"bounds": "flush",
"spacing": 36,
"resolve": {"scale": {"x": "independent", "y": "independent", "color": "independent"}, "legend": {"color": "independent"}},
"vconcat": [
 {
  "width": 696, "height": 180,
  "resolve": {"axis": {"x": "independent", "y": "independent"}},
  "layer": [
   {"data": {"name": "e_lo"}, "mark": {"type": "line", "strokeWidth": 2.5, "clip": true},
    "encoding": {
     "x": {"field": "h", "type": "quantitative", "scale": {"domain": [0, 72], "nice": false, "zero": false},
       "axis": {"orient": "bottom", "values": [0,6,12,18,24,30,36,42,48,54,60,66,72], "labels": false, "title": null, "tickSize": {"condition": {"test": "datum.value % 24 == 0", "value": -6}, "value": -3.5}}},
     "y": {"field": "v", "type": "quantitative", "scale": {"type": "log", "domain": [0.001, 10000000], "nice": false},
       "axis": {"orient": "left", "values": [0.001,0.01,0.1,1,10,100,1000,10000,100000,1000000,10000000], "labelExpr": "['','10⁻²','','10⁰','','10²','','10⁴','','10⁶',''][round(log(datum.value)/LN10)+3]", "tickSize": {"condition": {"test": "round(log(datum.value)/LN10) % 2 == 0", "value": -15}, "value": -7}, "labelPadding": 25, "title": "1/(cm² s sr MeV)", "titleX": -47, "titleY": 90, "titleAngle": -90, "titleAlign": "center", "titleBaseline": "middle"}},
     "color": {"datum": "0.035 to 0.065 MeV Electrons", "scale": {"domain": ["0.035 to 0.065 MeV Electrons", "0.7 to 4.0 Mev Electrons"], "range": ["black", "#0000ff"]},
       "legend": {"columnPadding": 33, "encode": {"labels": {"update": {"fill": {"signal": "datum.value === '0.7 to 4.0 Mev Electrons' ? '#0000ff' : 'black'"}}}}}}
    }},
   {"data": {"name": "e_hi"}, "mark": {"type": "square", "size": 5, "opacity": 1, "clip": true},
    "encoding": {
     "x": {"field": "h", "type": "quantitative", "axis": {"orient": "top", "values": [0,6,12,18,24,30,36,42,48,54,60,66,72], "labels": false, "title": null, "tickSize": {"condition": {"test": "datum.value % 24 == 0", "value": -6}, "value": -3.5}}},
     "y": {"field": "v", "type": "quantitative", "axis": {"orient": "right", "values": [0.001,0.01,0.1,1,10,100,1000,10000,100000,1000000,10000000], "labels": false, "title": null, "tickSize": {"condition": {"test": "round(log(datum.value)/LN10) % 2 == 0", "value": -15}, "value": -7}}},
     "color": {"datum": "0.7 to 4.0 Mev Electrons"}
    }}
  ]
 },
 {
  "width": 696, "height": 180,
  "resolve": {"axis": {"x": "independent", "y": "independent"}},
  "layer": [
   {"data": {"name": "h1"}, "mark": {"type": "line", "strokeWidth": 2.5, "clip": true},
    "encoding": {
     "x": {"field": "h", "type": "quantitative", "scale": {"domain": [0, 72], "nice": false, "zero": false},
       "axis": {"orient": "bottom", "values": [0,6,12,18,24,30,36,42,48,54,60,66,72], "labels": false, "title": null, "tickSize": {"condition": {"test": "datum.value % 24 == 0", "value": -6}, "value": -3.5}}},
     "y": {"field": "v", "type": "quantitative", "scale": {"type": "log", "domain": [0.00001, 1000000], "nice": false},
       "axis": {"orient": "left", "values": [0.00001,0.0001,0.001,0.01,0.1,1,10,100,1000,10000,100000,1000000], "labelExpr": "['','10⁻⁴','','10⁻²','','10⁰','','10²','','10⁴','','10⁶'][round(log(datum.value)/LN10)+5]", "tickSize": {"condition": {"test": "round(log(datum.value)/LN10) % 2 == 0", "value": -15}, "value": -7}, "labelPadding": 25, "title": "1/(cm² s sr MeV)", "titleX": -47, "titleY": 90, "titleAngle": -90, "titleAlign": "center", "titleBaseline": "middle"}},
     "color": {"datum": "0.14-0.62 MeV H", "scale": {"domain": ["0.14-0.62 MeV H", "0.62-2.22 MeV H", "2.2-12 MeV H", "13-100 MeV H"], "range": ["black", "#0000ff", "#c87a5c", "#ff0000"]},
       "legend": {"columnPadding": 17, "encode": {"labels": {"update": {"fill": {"signal": "datum.value === '0.62-2.22 MeV H' ? '#0000ff' : datum.value === '2.2-12 MeV H' ? '#c87a5c' : datum.value === '13-100 MeV H' ? '#ff0000' : 'black'"}}}}}}
    }},
   {"data": {"name": "h2"}, "mark": {"type": "line", "strokeWidth": 2.5, "clip": true},
    "encoding": {
     "x": {"field": "h", "type": "quantitative", "axis": {"orient": "top", "values": [0,6,12,18,24,30,36,42,48,54,60,66,72], "labels": false, "title": null, "tickSize": {"condition": {"test": "datum.value % 24 == 0", "value": -6}, "value": -3.5}}},
     "y": {"field": "v", "type": "quantitative", "axis": {"orient": "right", "values": [0.00001,0.0001,0.001,0.01,0.1,1,10,100,1000,10000,100000,1000000], "labels": false, "title": null, "tickSize": {"condition": {"test": "round(log(datum.value)/LN10) % 2 == 0", "value": -15}, "value": -7}}},
     "color": {"datum": "0.62-2.22 MeV H"}
    }},
   {"data": {"name": "h3"}, "mark": {"type": "line", "strokeWidth": 3, "clip": true},
    "encoding": {
     "x": {"field": "h", "type": "quantitative", "axis": null},
     "y": {"field": "v", "type": "quantitative", "axis": null},
     "color": {"datum": "2.2-12 MeV H"}
    }},
   {"data": {"name": "h4"}, "mark": {"type": "square", "size": 5, "opacity": 1, "clip": true},
    "encoding": {
     "x": {"field": "h", "type": "quantitative", "axis": null},
     "y": {"field": "v", "type": "quantitative", "axis": null},
     "color": {"datum": "13-100 MeV H"}
    }}
  ]
 },
 {
  "width": 696, "height": 180,
  "resolve": {"axis": {"x": "independent", "y": "independent"}},
  "layer": [
   {"data": {"name": "he"}, "mark": {"type": "square", "size": 6, "opacity": 1, "clip": true},
    "encoding": {
     "x": {"field": "h", "type": "quantitative", "scale": {"domain": [0, 72], "nice": false, "zero": false},
       "axis": {"orient": "bottom", "values": [0,6,12,18,24,30,36,42,48,54,60,66,72], "labels": false, "title": null, "tickSize": {"condition": {"test": "datum.value % 24 == 0", "value": -6}, "value": -3.5}}},
     "y": {"field": "v", "type": "quantitative", "scale": {"type": "log", "domain": [0.001, 10000], "nice": false},
       "axis": {"orient": "left", "values": [0.001,0.01,0.1,1,10,100,1000,10000], "labelExpr": "['10⁻³','10⁻²','10⁻¹','10⁰','10¹','10²','10³','10⁴'][round(log(datum.value)/LN10)+3]", "tickSize": -15, "labelPadding": 25, "title": "1/(cm² s sr MeV/nuc.)", "titleX": -47, "titleY": 90, "titleAngle": -90, "titleAlign": "center", "titleBaseline": "middle"}},
     "color": {"datum": "0.12-1.08 MeV/n He", "scale": {"domain": ["0.12-1.08 MeV/n He", "0.12-1.08 MeV/n CNO", "0.12-1.08 MeV Fe"], "range": ["black", "#0000ff", "#ff0000"]},
       "legend": {"columnPadding": 19, "encode": {"labels": {"update": {"fill": {"signal": "indexof(datum.value, 'CNO') >= 0 ? '#0000ff' : indexof(datum.value, 'Fe') >= 0 ? '#ff0000' : 'black'"}}}}}}
    }},
   {"data": {"name": "cno"}, "mark": {"type": "square", "size": 5, "opacity": 1, "clip": true},
    "encoding": {
     "x": {"field": "h", "type": "quantitative", "axis": {"orient": "top", "values": [0,6,12,18,24,30,36,42,48,54,60,66,72], "labels": false, "title": null, "tickSize": {"condition": {"test": "datum.value % 24 == 0", "value": -6}, "value": -3.5}}},
     "y": {"field": "v", "type": "quantitative", "axis": {"orient": "right", "values": [0.001,0.01,0.1,1,10,100,1000,10000], "labels": false, "title": null, "tickSize": -15}},
     "color": {"datum": "0.12-1.08 MeV/n CNO"}
    }},
   {"data": {"name": "fe"}, "mark": {"type": "square", "size": 5, "opacity": 1, "clip": true},
    "encoding": {
     "x": {"field": "h", "type": "quantitative", "axis": null},
     "y": {"field": "v", "type": "quantitative", "axis": null},
     "color": {"datum": "0.12-1.08 MeV Fe"}
    }}
  ]
 },
 {
  "width": 696, "height": 180,
  "resolve": {"axis": {"x": "independent", "y": "independent"}},
  "layer": [
   {"data": {"name": "he4"}, "mark": {"type": "square", "size": 4, "opacity": 1, "clip": true},
    "encoding": {
     "x": {"field": "h", "type": "quantitative", "scale": {"domain": [0, 72], "nice": false, "zero": false},
       "axis": {"orient": "bottom", "values": [0,6,12,18,24,30,36,42,48,54,60,66,72], "labelExpr": "datum.value % 24 == 0 ? ['21-Jan','22-Jan','23-Jan','24-Jan'][datum.value/24] : ''", "labelFontSize": 14, "labelPadding": 14, "tickSize": {"condition": {"test": "datum.value % 24 == 0", "value": -6}, "value": -3.5},
         "title": "STEREO Ahead\u00a0\u00a0\u00a0\u00a0\u00a0\u00a0\u00a0\u00a0\u00a0\u00a0\u00a0\u00a0\u00a0\u00a0\u00a0\u00a0\u00a0\u00a0\u00a0\u00a0\u00a0\u00a0\u00a0\u00a0\u00a0\u00a0\u00a0\u00a0Start: 21-Jan-2017 00:00 UTC", "titleAnchor": "start", "titleAlign": "left", "titlePadding": 4}},
     "y": {"field": "v", "type": "quantitative", "scale": {"type": "log", "domain": [0.00001, 1000], "nice": false},
       "axis": {"orient": "left", "values": [0.00001,0.0001,0.001,0.01,0.1,1,10,100,1000], "labelExpr": "['','10⁻⁴','','10⁻²','','10⁰','','10²',''][round(log(datum.value)/LN10)+5]", "tickSize": {"condition": {"test": "round(log(datum.value)/LN10) % 2 == 0", "value": -15}, "value": -7}, "labelPadding": 25, "title": "1/(cm² s sr MeV/nuc.)", "titleX": -47, "titleY": 90, "titleAngle": -90, "titleAlign": "center", "titleBaseline": "middle"}},
     "color": {"datum": "4 to 12 MeV/n He", "scale": {"domain": ["4 to 12 MeV/n He", "4 to 12 MeV/n CNO", "4 to 12 MeV Fe"], "range": ["black", "#0000ff", "#ff0000"]},
       "legend": {"columnPadding": 19, "encode": {"labels": {"update": {"fill": {"signal": "indexof(datum.value, 'CNO') >= 0 ? '#0000ff' : indexof(datum.value, 'Fe') >= 0 ? '#ff0000' : 'black'"}}}}}}
    }},
   {"data": {"name": "cno4"}, "mark": {"type": "square", "size": 4, "opacity": 1, "clip": true},
    "encoding": {
     "x": {"field": "h", "type": "quantitative", "axis": {"orient": "top", "values": [0,6,12,18,24,30,36,42,48,54,60,66,72], "labels": false, "title": null, "tickSize": {"condition": {"test": "datum.value % 24 == 0", "value": -6}, "value": -3.5}}},
     "y": {"field": "v", "type": "quantitative", "axis": {"orient": "right", "values": [0.00001,0.0001,0.001,0.01,0.1,1,10,100,1000], "labels": false, "title": null, "tickSize": {"condition": {"test": "round(log(datum.value)/LN10) % 2 == 0", "value": -15}, "value": -7}}},
     "color": {"datum": "4 to 12 MeV/n CNO"}
    }}
  ]
 }
]
}
